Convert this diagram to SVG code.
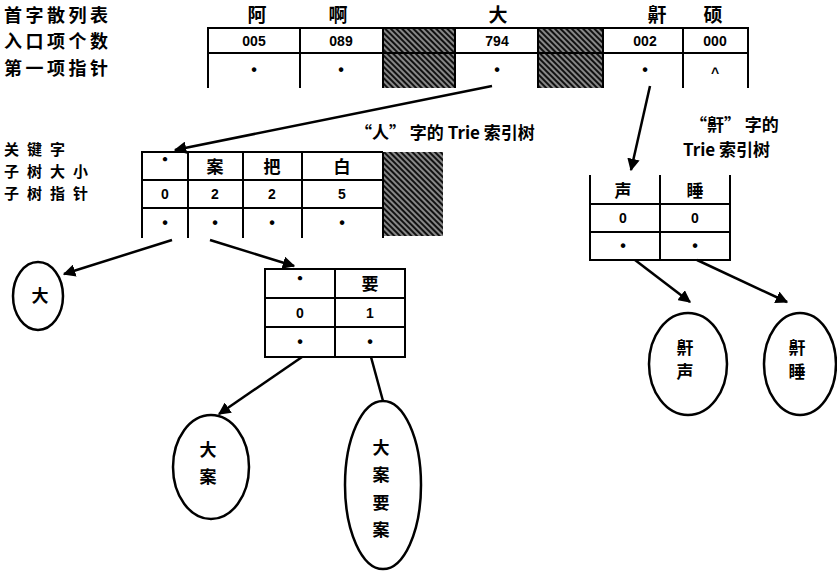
<svg xmlns="http://www.w3.org/2000/svg" width="837" height="571" viewBox="0 0 837 571">
<defs>
<pattern id="hatch" width="4" height="4" patternUnits="userSpaceOnUse" patternTransform="rotate(45)">
<rect width="4" height="4" fill="#111"/>
<line x1="0" y1="2" x2="4" y2="2" stroke="#ffffff" stroke-width="1"/>
</pattern>
<marker id="arr" viewBox="0 0 10 10" refX="9" refY="5" markerWidth="5" markerHeight="5" orient="auto" markerUnits="strokeWidth">
<path d="M0,0 L10,5 L0,10 z" fill="#000"/>
</marker>
</defs>
<style>
text{font-family:"Noto Sans CJK SC","Liberation Sans",sans-serif;font-weight:bold;fill:#000}
.lab{font-size:18px;letter-spacing:3.5px}
.tl{font-size:15px;letter-spacing:8px}
.cap{font-size:17px}
.hd{font-size:19px;text-anchor:middle}
.num{font-size:14px;text-anchor:middle;font-family:"Liberation Sans",sans-serif}
.cell{font-size:17px;text-anchor:middle}
.dot{font-size:16px;text-anchor:middle;font-family:"Liberation Sans",sans-serif}
.grid{fill:none;stroke:#000;stroke-width:2}
.conn{fill:none;stroke:#000;stroke-width:2.5}
.ell{fill:#fff;stroke:#000;stroke-width:2.5}
</style>

<g id="hash-labels">
<text class="lab" x="4" y="22">首字散列表</text>
<text class="lab" x="4" y="48">入口项个数</text>
<text class="lab" x="4" y="75">第一项指针</text>
</g>

<g id="hash-table">
<rect x="383" y="28" width="72" height="60" fill="url(#hatch)"/>
<rect x="538" y="28" width="65" height="60" fill="url(#hatch)"/>
<path class="grid" d="M208,88 V28 H748 V88 M208,53 H748 M300,28 V88 M383,28 V88 M455,28 V88 M538,28 V88 M603,28 V88 M683,28 V88"/>
<text class="hd" x="257" y="22">阿</text>
<text class="hd" x="338" y="22">啊</text>
<text class="hd" x="498" y="22">大</text>
<text class="hd" x="657" y="22">鼾</text>
<text class="hd" x="713" y="22">硕</text>
<text class="num" x="254" y="46">005</text>
<text class="num" x="341" y="46">089</text>
<text class="num" x="497" y="46">794</text>
<text class="num" x="645" y="46">002</text>
<text class="num" x="715" y="46">000</text>
<text class="dot" x="254" y="75">•</text>
<text class="dot" x="341" y="75">•</text>
<text class="dot" x="497" y="75">•</text>
<text class="dot" x="645" y="75">•</text>
<text class="num" x="715" y="78">^</text>
</g>

<g id="trie-labels">
<text class="tl" x="4" y="155">关键字</text>
<text class="tl" x="4" y="177">子树大小</text>
<text class="tl" x="4" y="199">子树指针</text>
<text class="cap" x="355" y="139">“人” 字的 Trie 索引树</text>
<text class="cap" x="690" y="131">“鼾” 字的</text>
<text class="cap" x="683" y="156">Trie 索引树</text>
</g>

<g id="trie-da">
<rect x="383" y="152" width="60" height="84" fill="url(#hatch)"/>
<path class="grid" d="M142,238 V152 H383 M142,180 H383 M142,208 H383 M188,152 V238 M243,152 V238 M302,152 V238 M383,152 V238"/>
<text class="cell" x="165" y="166">·</text>
<text class="cell" x="215" y="173">案</text>
<text class="cell" x="272" y="173">把</text>
<text class="cell" x="342" y="173">白</text>
<text class="num" x="165" y="199">0</text>
<text class="num" x="215" y="199">2</text>
<text class="num" x="272" y="199">2</text>
<text class="num" x="342" y="199">5</text>
<text class="dot" x="165" y="228">•</text>
<text class="dot" x="215" y="228">•</text>
<text class="dot" x="272" y="228">•</text>
<text class="dot" x="342" y="228">•</text>
</g>

<g id="trie-han">
<path class="grid" d="M590,175 V260 H730 V175 M590,204 H730 M590,232 H730 M660,175 V260"/>
<text class="cell" x="623" y="197">声</text>
<text class="cell" x="695" y="197">睡</text>
<text class="num" x="623" y="223">0</text>
<text class="num" x="695" y="223">0</text>
<text class="dot" x="623" y="251">•</text>
<text class="dot" x="695" y="251">•</text>
</g>

<g id="trie-an">
<path class="grid" d="M265,269 H405 V357 H265 Z M265,298 H405 M265,327 H405 M335,269 V357"/>
<text class="cell" x="300" y="285">·</text>
<text class="cell" x="370" y="290">要</text>
<text class="num" x="300" y="318">0</text>
<text class="num" x="370" y="318">1</text>
<text class="dot" x="300" y="347">•</text>
<text class="dot" x="370" y="347">•</text>
</g>

<g id="node-da">
<ellipse class="ell" cx="38" cy="296" rx="25" ry="34"/>
<text class="cell" x="40" y="302">大</text>
</g>
<g id="node-daan">
<ellipse class="ell" cx="211" cy="467" rx="38" ry="52"/>
<text class="cell" x="208" y="456">大</text>
<text class="cell" x="208" y="483">案</text>
</g>
<g id="node-daanyaoan">
<ellipse class="ell" cx="383" cy="485" rx="38" ry="84"/>
<text class="cell" x="381" y="454">大</text>
<text class="cell" x="381" y="481">案</text>
<text class="cell" x="381" y="509">要</text>
<text class="cell" x="381" y="536">案</text>
</g>
<g id="node-hansheng">
<ellipse class="ell" cx="688" cy="364" rx="39" ry="51"/>
<text class="cell" x="685" y="354">鼾</text>
<text class="cell" x="685" y="378">声</text>
</g>
<g id="node-hanshui">
<ellipse class="ell" cx="800" cy="364" rx="36" ry="51"/>
<text class="cell" x="797" y="354">鼾</text>
<text class="cell" x="797" y="378">睡</text>
</g>

<g id="connectors">
<path class="conn" d="M492,86 Q330,118 175,150" marker-end="url(#arr)"/>
<path class="conn" d="M650,86 L631,170" marker-end="url(#arr)"/>
<path class="conn" d="M172,240 L64,274" marker-end="url(#arr)"/>
<path class="conn" d="M210,240 L294,266" marker-end="url(#arr)"/>
<path class="conn" d="M302,357 L219,414" marker-end="url(#arr)"/>
<path class="conn" d="M371,357 L383,401"/>
<path class="conn" d="M635,260 L690,302" marker-end="url(#arr)"/>
<path class="conn" d="M697,260 L787,302" marker-end="url(#arr)"/>
</g>
</svg>
